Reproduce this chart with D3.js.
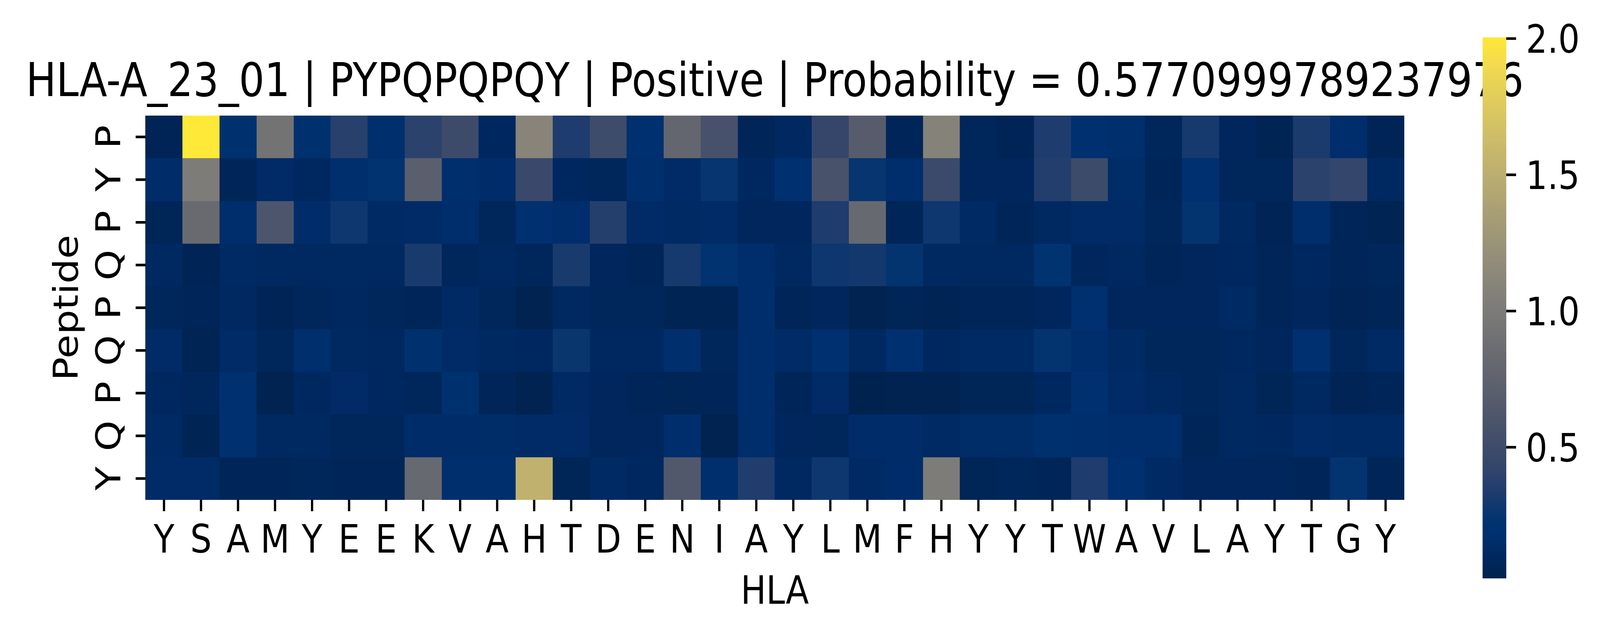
<!DOCTYPE html>
<html>
<head>
<meta charset="utf-8">
<script src="https://cdn.jsdelivr.net/npm/d3@7"></script>
<style>
  html, body { margin: 0; padding: 0; background: #ffffff; overflow: hidden; }
  svg { display: block; }
  text { font-family: "DejaVu Sans", sans-serif; fill: #000; }
</style>
</head>
<body>
<svg id="chart"></svg>
<script>
// ---------------- data ----------------
const titleText = "HLA-A_23_01 | PYPQPQPQY | Positive | Probability = 0.5770999789237976";
const xAxisLabel = "HLA";
const yAxisLabel = "Peptide";

const hlaLabels = ["Y","S","A","M","Y","E","E","K","V","A","H","T","D","E","N","I","A","Y","L","M","F","H","Y","Y","T","W","A","V","L","A","Y","T","G","Y"];
const peptideLabels = ["P","Y","P","Q","P","Q","P","Q","Y"];

const rowP1 = [0.05,2.004,0.19,0.92,0.19,0.37,0.17,0.39,0.49,0.10,1.10,0.33,0.50,0.18,0.78,0.56,0.07,0.11,0.44,0.68,0.07,1.08,0.08,0.05,0.33,0.18,0.17,0.08,0.30,0.09,0.04,0.32,0.16,0.05];
const rowY2 = [0.15,1.02,0.06,0.13,0.10,0.17,0.22,0.71,0.17,0.15,0.47,0.10,0.08,0.17,0.13,0.25,0.10,0.18,0.57,0.25,0.16,0.48,0.09,0.09,0.35,0.49,0.14,0.07,0.18,0.08,0.08,0.39,0.43,0.11];
const rowP3 = [0.06,0.83,0.16,0.60,0.15,0.27,0.12,0.13,0.16,0.08,0.18,0.16,0.36,0.13,0.12,0.13,0.09,0.09,0.33,0.82,0.07,0.27,0.12,0.07,0.11,0.13,0.13,0.08,0.24,0.11,0.05,0.16,0.07,0.04];
const rowQ4 = [0.11,0.05,0.12,0.11,0.11,0.11,0.11,0.31,0.08,0.11,0.08,0.31,0.09,0.07,0.30,0.22,0.16,0.11,0.27,0.29,0.24,0.11,0.11,0.11,0.22,0.09,0.11,0.07,0.09,0.10,0.07,0.10,0.07,0.08];
const rowP5 = [0.08,0.07,0.11,0.05,0.08,0.10,0.08,0.07,0.12,0.08,0.03,0.11,0.08,0.08,0.04,0.04,0.16,0.07,0.09,0.03,0.06,0.04,0.07,0.07,0.09,0.18,0.09,0.09,0.09,0.12,0.07,0.09,0.05,0.06];
const rowQ6 = [0.13,0.04,0.13,0.08,0.17,0.11,0.10,0.19,0.13,0.11,0.10,0.26,0.10,0.10,0.17,0.08,0.16,0.13,0.18,0.11,0.18,0.10,0.12,0.12,0.24,0.16,0.12,0.08,0.08,0.10,0.09,0.18,0.08,0.12];
const rowP7 = [0.10,0.08,0.18,0.03,0.10,0.13,0.10,0.08,0.20,0.07,0.03,0.12,0.09,0.07,0.06,0.07,0.16,0.07,0.13,0.018,0.03,0.03,0.06,0.06,0.10,0.18,0.13,0.11,0.08,0.11,0.06,0.11,0.05,0.07];
const rowQ8 = [0.12,0.04,0.18,0.11,0.11,0.08,0.08,0.15,0.15,0.14,0.13,0.13,0.09,0.09,0.16,0.03,0.16,0.09,0.08,0.15,0.15,0.12,0.14,0.14,0.19,0.17,0.16,0.16,0.06,0.11,0.10,0.13,0.12,0.12];
const rowY9 = [0.13,0.13,0.07,0.07,0.08,0.07,0.07,0.82,0.17,0.17,1.53,0.06,0.12,0.10,0.64,0.17,0.34,0.11,0.27,0.12,0.15,1.02,0.06,0.08,0.07,0.33,0.18,0.12,0.09,0.09,0.09,0.07,0.24,0.06];
const attention = [rowP1,rowY2,rowP3,rowQ4,rowP5,rowQ6,rowP7,rowQ8,rowY9];

const colorbarTicks = [0.5, 1.0, 1.5, 2.0];

// cividis colormap stops (position 0..1 -> colour)
const cividisPos = [0,0.04,0.08,0.105,0.158,0.21,0.263,0.316,0.368,0.421,0.474,0.526,0.579,0.632,0.684,0.737,0.789,0.842,0.895,0.947,1];
const cividisCol = ["#00224e","#00285f","#00306f","#00336f","#1f3c6d","#35466b","#444f6b","#53596c","#5f636e","#6b6c71","#777776","#838079","#908b79","#9d9677","#aba074","#b9ac70","#c7b76b","#d5c364","#e3ce5a","#f1da4e","#fee838"];

// ---------------- layout ----------------
const W = 4729, H = 1626;
const plot = {left: 430, right: 4150, top: 296, bottom: 1280};
const cb = {left: 4382, right: 4452, top: 95.5, bottom: 1481};
const FS = 100;

// the drawing is laid out in a 4729x1626 space and fitted to the viewport
const vw = window.innerWidth || W, vh = window.innerHeight || H;
const svg = d3.select("#chart")
  .attr("width", vw).attr("height", vh)
  .attr("viewBox", `0 0 ${W} ${H}`)
  .attr("preserveAspectRatio", "none");
svg.append("rect").attr("width", W).attr("height", H).attr("fill", "#fff");

const cells = [];
attention.forEach((row, r) => row.forEach((v, c) => cells.push({r, c, v})));
const [vmin, vmax] = d3.extent(cells, d => d.v);

const color = d3.scaleLinear()
  .domain(cividisPos.map(p => vmin + p * (vmax - vmin)))
  .range(cividisCol)
  .interpolate(d3.interpolateRgb)
  .clamp(true);

const x = d3.scaleBand().domain(d3.range(hlaLabels.length)).range([plot.left, plot.right]);
const y = d3.scaleBand().domain(d3.range(peptideLabels.length)).range([plot.top, plot.bottom]);

// title first, so the colorbar overlaps it as in the reference
svg.append("text")
  .attr("x", (plot.left + plot.right) / 2)
  .attr("y", 246)
  .attr("text-anchor", "middle")
  .attr("font-size", 119)
  .text(titleText);

// heatmap cells
svg.append("g")
  .selectAll("rect")
  .data(cells)
  .join("rect")
  .attr("x", d => x(d.c))
  .attr("y", d => y(d.r))
  .attr("width", x.bandwidth())
  .attr("height", y.bandwidth())
  .attr("fill", d => color(d.v))
  .attr("shape-rendering", "crispEdges");

// x axis
const xAxis = svg.append("g")
  .attr("transform", `translate(0,${plot.bottom})`)
  .call(d3.axisBottom(x).tickSize(29).tickPadding(35).tickFormat(i => hlaLabels[i]));
xAxis.select(".domain").remove();
xAxis.selectAll(".tick line").attr("stroke", "#000").attr("stroke-width", 6.7);
xAxis.selectAll(".tick text").attr("font-size", FS).attr("font-family", "DejaVu Sans").attr("fill", "#000");

// y axis (rotated labels)
const yAxis = svg.append("g")
  .attr("transform", `translate(${plot.left},0)`)
  .call(d3.axisLeft(y).tickSize(29).tickFormat(i => peptideLabels[i]));
yAxis.select(".domain").remove();
yAxis.selectAll(".tick line").attr("stroke", "#000").attr("stroke-width", 6.7);
yAxis.selectAll(".tick text")
  .attr("x", null).attr("dy", null)
  .attr("text-anchor", "middle")
  .attr("transform", `translate(${356 - plot.left},0) rotate(-90)`)
  .attr("font-size", FS).attr("font-family", "DejaVu Sans").attr("fill", "#000");

// axis labels
svg.append("text")
  .attr("x", (plot.left + plot.right) / 2)
  .attr("y", 1546)
  .attr("text-anchor", "middle")
  .attr("font-size", FS)
  .text(xAxisLabel);

svg.append("text")
  .attr("transform", `translate(230,${(plot.top + plot.bottom) / 2}) rotate(-90)`)
  .attr("text-anchor", "middle")
  .attr("font-size", FS)
  .text(yAxisLabel);

// colorbar
const cbScale = d3.scaleLinear().domain([vmin, vmax]).range([cb.bottom, cb.top]);
const defs = svg.append("defs");
const grad = defs.append("linearGradient")
  .attr("id", "cbgrad")
  .attr("x1", 0).attr("y1", 1).attr("x2", 0).attr("y2", 0);
d3.range(0, 1.0001, 0.01).forEach(p => {
  grad.append("stop")
    .attr("offset", p)
    .attr("stop-color", color(vmin + p * (vmax - vmin)));
});
svg.append("rect")
  .attr("x", cb.left)
  .attr("y", cbScale(vmax))
  .attr("width", cb.right - cb.left)
  .attr("height", cbScale(vmin) - cbScale(vmax))
  .attr("fill", "url(#cbgrad)");

const cbAxis = svg.append("g")
  .attr("transform", `translate(${cb.right},0)`)
  .call(d3.axisRight(cbScale).tickValues(colorbarTicks).tickSize(29).tickPadding(29).tickFormat(d3.format(".1f")));
cbAxis.select(".domain").remove();
cbAxis.selectAll(".tick line").attr("stroke", "#000").attr("stroke-width", 6.7);
cbAxis.selectAll(".tick text")
  .attr("dy", "0.365em")
  .attr("font-size", FS).attr("font-family", "DejaVu Sans").attr("fill", "#000");
</script>
</body>
</html>
